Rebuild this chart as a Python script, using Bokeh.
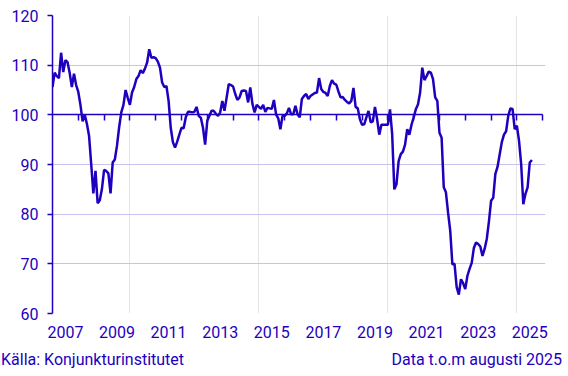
from bokeh.plotting import figure
from bokeh.layouts import column
from bokeh.models import Range1d, LinearAxis, FixedTicker, Grid, CustomJSTickFormatter, Div
from bokeh.embed import file_html
from bokeh.resources import INLINE

# Monthly indicator values, Jan 2007 - Aug 2025
v2007 = [105.6, 108.5, 107.8, 107.4, 112.5, 108.6, 111.0, 110.6, 108.4, 105.6, 108.3, 106.0]
v2008 = [104.6, 102.0, 98.7, 100.0, 98.2, 95.8, 90.1, 84.2, 88.7, 82.2, 82.8, 85.1]
v2009 = [88.9, 88.7, 88.2, 84.2, 90.4, 91.0, 93.8, 97.5, 100.5, 102.0, 105.0, 103.4]
v2010 = [102.0, 104.5, 105.6, 107.2, 107.8, 109.0, 108.4, 109.3, 110.5, 113.2, 111.5, 111.6]
v2011 = [111.4, 110.7, 109.5, 106.5, 105.6, 105.8, 102.8, 97.4, 94.5, 93.4, 94.6, 96.0]
v2012 = [97.4, 97.3, 99.5, 100.6, 100.6, 100.5, 100.6, 101.6, 99.8, 99.4, 97.4, 94.0]
v2013 = [98.8, 99.8, 100.8, 100.8, 100.2, 99.8, 100.5, 102.8, 100.8, 103.5, 106.2, 106.0]
v2014 = [105.7, 104.2, 103.0, 103.5, 104.8, 104.9, 104.8, 102.5, 105.5, 102.2, 100.5, 102.0]
v2015 = [101.6, 101.2, 102.0, 100.6, 101.4, 101.3, 101.2, 103.0, 100.1, 99.3, 97.1, 99.8]
v2016 = [99.8, 100.3, 101.4, 100.1, 100.1, 101.8, 100.1, 99.5, 103.2, 103.8, 104.2, 103.2]
v2017 = [103.8, 104.1, 104.4, 104.5, 107.4, 105.2, 104.6, 104.4, 103.8, 105.8, 107.0, 106.3]
v2018 = [106.1, 104.7, 103.5, 103.6, 103.0, 102.6, 102.3, 102.8, 105.4, 101.6, 101.3, 99.1]
v2019 = [98.0, 98.1, 99.5, 100.8, 98.5, 98.7, 101.6, 99.1, 96.0, 98.0, 98.0, 98.0]
v2020 = [98.0, 101.1, 96.1, 85.0, 86.0, 90.7, 92.1, 92.6, 94.0, 97.1, 96.0, 98.0]
v2021 = [99.5, 101.1, 102.1, 104.5, 109.5, 107.0, 107.8, 108.7, 108.5, 107.2, 103.5, 102.8]
v2022 = [96.4, 95.4, 85.4, 84.4, 80.3, 76.7, 69.9, 70.0, 65.3, 63.8, 66.9, 66.1]
v2023 = [64.9, 67.6, 69.0, 70.2, 73.2, 74.3, 74.0, 73.5, 71.6, 73.0, 75.0, 78.5]
v2024 = [82.7, 83.3, 88.1, 89.5, 92.0, 94.5, 96.0, 96.7, 99.8, 101.3, 101.2, 97.1]
v2025 = [97.8, 94.8, 90.1, 82.0, 84.1, 85.4, 90.4, 90.9]

years = list(range(2007, 2026))
yearly = [v2007, v2008, v2009, v2010, v2011, v2012, v2013, v2014, v2015, v2016,
          v2017, v2018, v2019, v2020, v2021, v2022, v2023, v2024, v2025]

tick_years = list(range(2008, 2027))
label_years = [2007, 2009, 2011, 2013, 2015, 2017, 2019, 2021, 2023, 2025]
y_ticks = [60, 70, 80, 90, 100, 110, 120]

source_text = "Källa: Konjunkturinstitutet"
note_text = "Data t.o.m augusti 2025"

xs, ys = [], []
for yr, vals in zip(years, yearly):
    for i, v in enumerate(vals):
        xs.append(yr + i / 12.0)
        ys.append(v)

BLUE = "#1e00be"
GRID = "#c8c3ee"
FONT = "Roboto"

p = figure(width=568, height=346, x_range=Range1d(2007, 2026.11), y_range=Range1d(60, 120),
           output_backend="svg", toolbar_location=None, x_axis_location=None,
           min_border_left=52, min_border_right=23, min_border_top=15, min_border_bottom=33)
p.outline_line_color = None
p.background_fill_color = "white"
p.border_fill_color = "white"

p.ygrid.ticker = FixedTicker(ticks=[t for t in y_ticks if t not in (100, 120)])
p.ygrid.grid_line_color = GRID
p.ygrid.grid_line_width = 1
top_grid = Grid(dimension=1, ticker=FixedTicker(ticks=[120]), grid_line_color=GRID,
                grid_line_dash="2 2", grid_line_width=1)
p.add_layout(top_grid)

ya = p.yaxis[0]
ya.ticker = FixedTicker(ticks=y_ticks)
ya.bounds = (60, 120)
ya.axis_line_color = BLUE
ya.axis_line_width = 1.5
ya.major_tick_line_color = BLUE
ya.major_tick_line_width = 1.5
ya.major_tick_out = 5
ya.major_tick_in = 0
ya.minor_tick_line_color = None
ya.major_label_standoff = 9
ya.major_label_text_font = FONT
ya.major_label_text_font_size = "16px"
ya.major_label_text_color = BLUE

p.line(xs, ys, line_color=BLUE, line_width=2.5)

ax100 = LinearAxis(fixed_location=100, ticker=FixedTicker(ticks=tick_years), bounds=(2007, 2026),
                   major_tick_in=6, major_tick_out=0, major_label_text_color=None,
                   major_label_text_font_size="1px",
                   major_label_standoff=0, minor_tick_line_color=None,
                   axis_line_color=BLUE, axis_line_width=1.5,
                   major_tick_line_color=BLUE, major_tick_line_width=1.5)
p.add_layout(ax100, "above")

lab = LinearAxis(ticker=FixedTicker(ticks=[y + 0.5 for y in label_years]),
                 formatter=CustomJSTickFormatter(code="return String(Math.floor(tick));"),
                 axis_line_color=None, major_tick_line_color=None, minor_tick_line_color=None,
                 major_label_standoff=6, major_label_text_font=FONT,
                 major_label_text_font_size="16px", major_label_text_color=BLUE)
p.add_layout(lab, "below")

# Footer with source and data note
footer_html = (
    '<div style="display:flex;justify-content:space-between;box-sizing:border-box;'
    'width:562px;margin:0;padding:4px 0 0 1px;font-family:Roboto;font-size:16px;'
    'line-height:20px;color:%s;white-space:nowrap;">'
    '<span>%s</span><span>%s</span></div>' % (BLUE, source_text, note_text)
)
foot = Div(text=footer_html, width=568, height=30, margin=(0, 0, 0, 0))

layout = column(p, foot, spacing=0)
open("out.html", "w").write(file_html(layout, INLINE))
